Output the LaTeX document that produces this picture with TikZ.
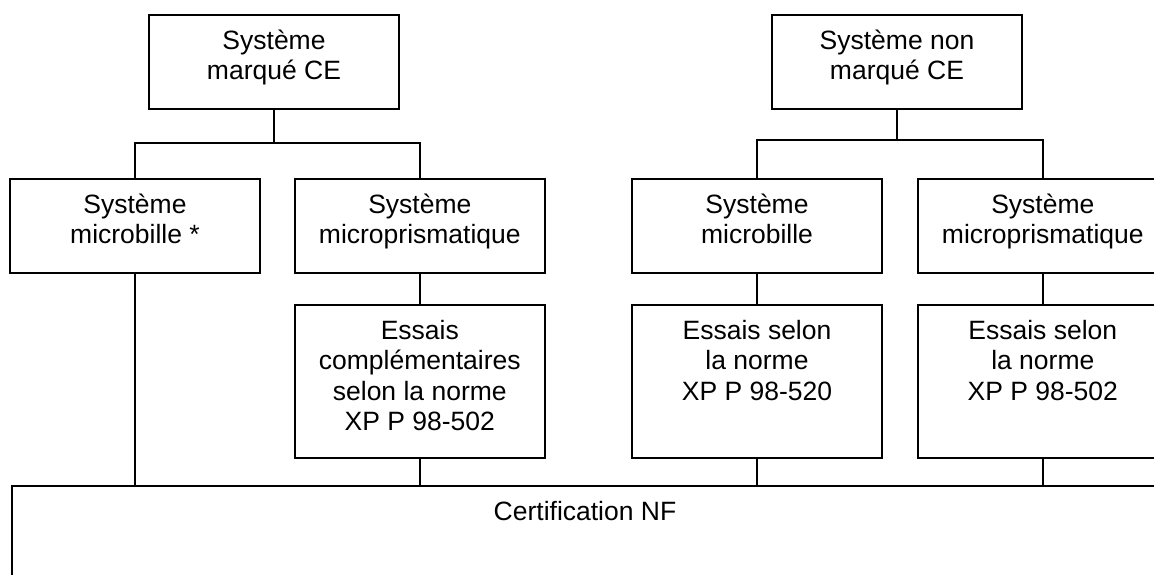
\documentclass[tikz,border=0pt]{standalone}
\usepackage{fontspec}
\setmainfont{Liberation Sans}
\usetikzlibrary{positioning}

% text block, pinned to the top of its frame
\newcommand{\boxtext}[3][240pt]{\parbox[t][#2][t]{#1}{\centering\strut #3}}

\begin{document}
\begin{tikzpicture}[x=1pt, y=1pt,
    line width=1.8pt,
    every node/.style={font=\fontsize{26.5}{30.5}\selectfont},
    box/.style={draw, inner xsep=5pt, inner ysep=13pt, anchor=north}]

  \useasboundingbox (0,0) rectangle (1154,-575);
  \clip (0,0) rectangle (1154,-575);

  % marked branch
  \node[box] (ce) at (274,-14) {\boxtext{68pt}{Système\\marqué CE}};
  \node[box] (mb1) at (135,-178) {\boxtext{68pt}{Système\\microbille *}};
  \node[box, right=33pt of mb1] (mp1) {\boxtext{68pt}{Système\\microprismatique}};
  \node[box, below=30pt of mp1] (es1) {\boxtext{127pt}{Essais\\complémentaires\\selon la norme\\XP P 98-502}};

  % non marked branch
  \node[box] (nonce) at (897,-14) {\boxtext{68pt}{Système non\\marqué CE}};
  \node[box] (mb2) at (757,-178) {\boxtext{68pt}{Système\\microbille}};
  \node[box, right=34pt of mb2] (mp2) {\boxtext{68pt}{Système\\microprismatique}};
  \node[box, below=30pt of mb2] (es2) {\boxtext{127pt}{Essais selon\\la norme\\XP P 98-520}};
  \node[box, below=30pt of mp2] (es3) {\boxtext{127pt}{Essais selon\\la norme\\XP P 98-502}};

  % common end
  \node[box] (cert) at (585,-485) {\boxtext[1136pt]{94pt}{Certification NF}};

  % tree links
  \draw (ce.south) -- ++(0,-33) coordinate (bus1);
  \draw (mb1.north) |- (bus1) -| (mp1.north);
  \draw (mp1) -- (es1);

  \draw (nonce.south) -- ++(0,-30) coordinate (bus2);
  \draw (mb2.north) |- (bus2) -| (mp2.north);
  \draw (mb2) -- (es2);
  \draw (mp2) -- (es3);

  % into the certification
  \draw (mb1.south) -- (mb1.south |- cert.north);
  \draw (es1.south) -- (es1.south |- cert.north);
  \draw (es2.south) -- (es2.south |- cert.north);
  \draw (es3.south) -- (es3.south |- cert.north);

\end{tikzpicture}
\end{document}
